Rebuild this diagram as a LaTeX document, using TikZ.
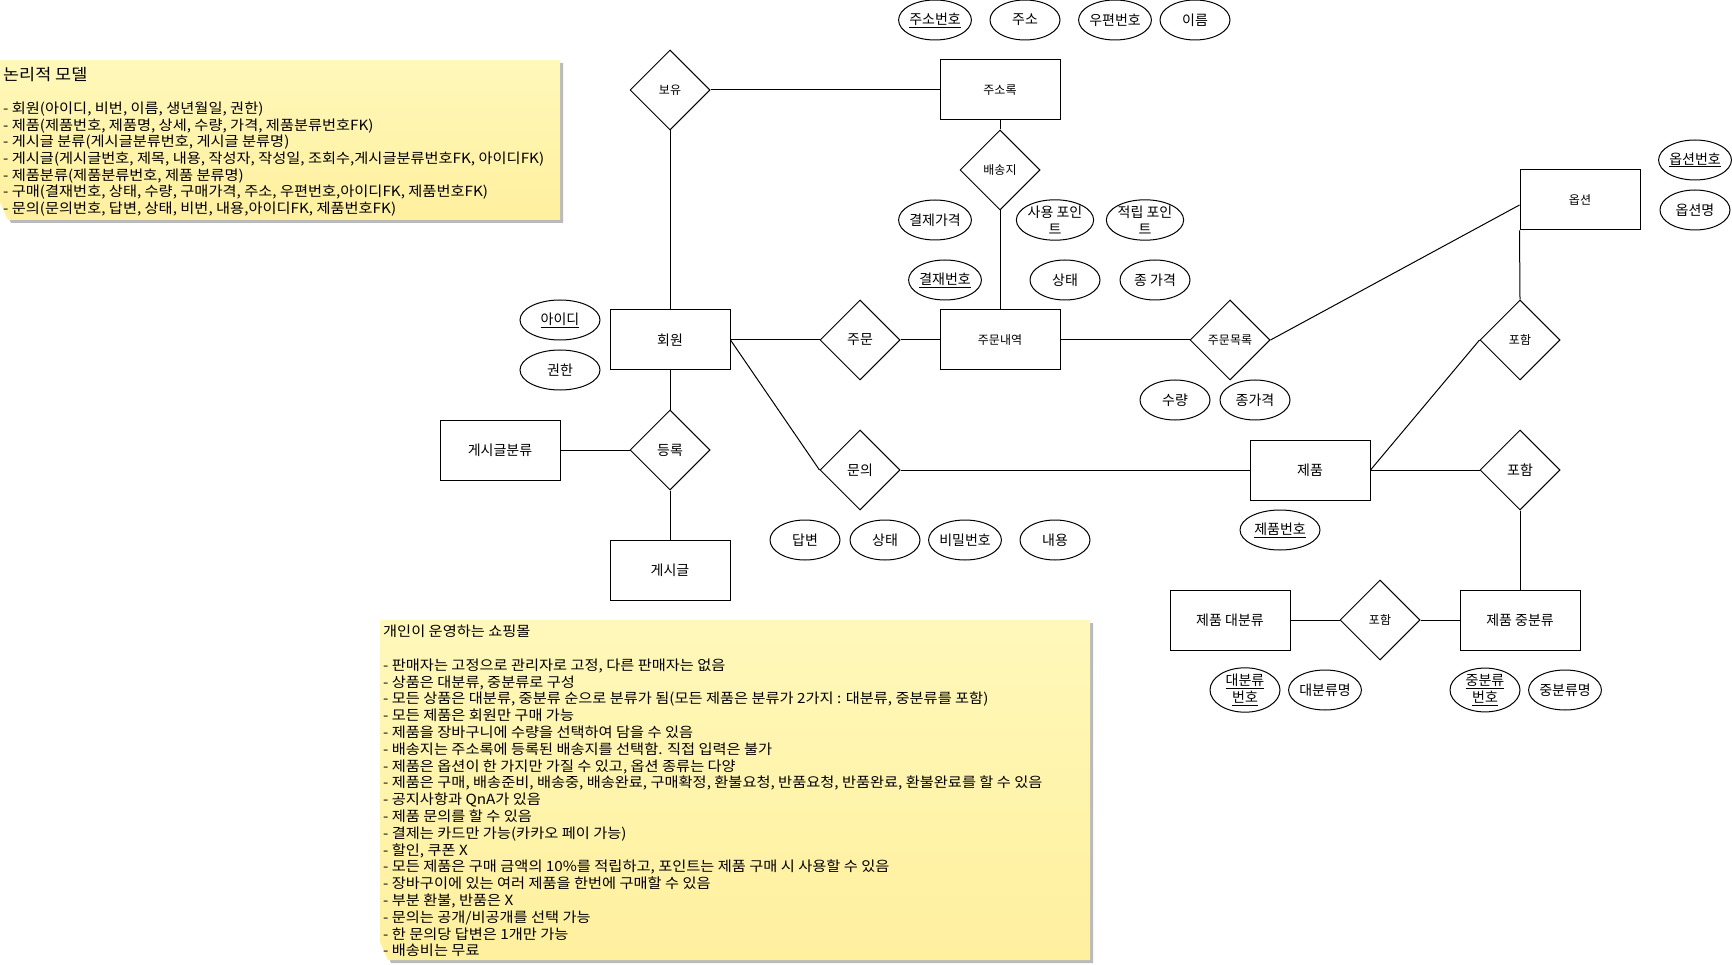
\documentclass[tikz,border=0pt]{standalone}
\usepackage{fontspec}
\setmainfont{Noto Sans CJK KR}
\newfontfamily\notefont[FakeStretch=1.09]{Noto Sans CJK KR}
\usetikzlibrary{shapes.geometric,shadows}
\definecolor{notetop}{HTML}{FFF8BA}
\definecolor{notebot}{HTML}{FFF09E}
\begin{document}
\begin{tikzpicture}[x=1pt,y=-1pt,
  every node/.style={inner sep=0pt,font=\fontsize{12}{14}\selectfont},
  entity/.style={draw,line width=1pt,rectangle,minimum width=120pt,minimum height=60pt},
  rel/.style={draw,line width=1pt,diamond,minimum width=80pt,minimum height=80pt,shape aspect=1},
  attr/.style={draw,line width=1pt,ellipse,minimum width=70pt,minimum height=40pt,align=center,font=\fontsize{14}{17}\selectfont},
  wide/.style={minimum width=80pt},
  large/.style={font=\fontsize{14}{17}\selectfont},
  link/.style={line width=1pt},
  note/.style={top color=notetop,bottom color=notebot,
    drop shadow={shadow xshift=3pt,shadow yshift=-3pt,fill=black!45,opacity=0.6}},
  notetext/.style={anchor=north west,align=left,font=\notefont\fontsize{14}{16.8}\selectfont}
]
\useasboundingbox (0,0) rectangle (1732,965);

% sticky notes, with the lower left corner folded away
\path[note] (0,60) -- (560,60) -- (560,220) -- (8,220) -- (0,202) -- cycle;
\node[anchor=north west,font=\notefont\fontsize{16}{19}\selectfont] (n1title) at (3,67) {논리적 모델};
\node[notetext,font=\notefont\fontsize{14}{16.6}\selectfont] (n1body) at (3,102) {%
- 회원(아이디, 비번, 이름, 생년월일, 권한)\\
- 제품(제품번호, 제품명, 상세, 수량, 가격, 제품분류번호FK)\\
- 게시글 분류(게시글분류번호, 게시글 분류명)\\
- 게시글(게시글번호, 제목, 내용, 작성자, 작성일, 조회수,게시글분류번호FK, 아이디FK)\\
- 제품분류(제품분류번호, 제품 분류명)\\
- 구매(결재번호, 상태, 수량, 구매가격, 주소, 우편번호,아이디FK, 제품번호FK)\\
- 문의(문의번호, 답변, 상태, 비번, 내용,아이디FK, 제품번호FK)};

\path[note] (380,620) -- (1090,620) -- (1090,960) -- (388,960) -- (380,942) -- cycle;
\node[notetext] (n2text) at (383,625) {%
개인이 운영하는 쇼핑몰\\[16.8pt]
- 판매자는 고정으로 관리자로 고정, 다른 판매자는 없음\\
- 상품은 대분류, 중분류로 구성\\
- 모든 상품은 대분류, 중분류 순으로 분류가 됨(모든 제품은 분류가 2가지 : 대분류, 중분류를 포함)\\
- 모든 제품은 회원만 구매 가능\\
- 제품을 장바구니에 수량을 선택하여 담을 수 있음\\
- 배송지는 주소록에 등록된 배송지를 선택함. 직접 입력은 불가\\
- 제품은 옵션이 한 가지만 가질 수 있고, 옵션 종류는 다양\\
- 제품은 구매, 배송준비, 배송중, 배송완료, 구매확정, 환불요청, 반품요청, 반품완료, 환불완료를 할 수 있음\\
- 공지사항과 QnA가 있음\\
- 제품 문의를 할 수 있음\\
- 결제는 카드만 가능(카카오 페이 가능)\\
- 할인, 쿠폰 X\\
- 모든 제품은 구매 금액의 10\%를 적립하고, 포인트는 제품 구매 시 사용할 수 있음\\
- 장바구이에 있는 여러 제품을 한번에 구매할 수 있음\\
- 부분 환불, 반품은 X\\
- 문의는 공개/비공개를 선택 가능\\
- 한 문의당 답변은 1개만 가능\\
- 배송비는 무료};

% entities
\node[entity] (addr) at (1000,90) {주소록};
\node[entity,large] (member) at (670,340) {회원};
\node[entity] (orderlist) at (1000,340) {주문내역};
\node[entity,large] (boardcat) at (500,450) {게시글분류};
\node[entity,large] (post) at (670,570) {게시글};
\node[entity,large] (product) at (1310,470) {제품};
\node[entity] (option) at (1580,200) {옵션};
\node[entity,large] (bigcat) at (1230,620) {제품 대분류};
\node[entity,large] (midcat) at (1520,620) {제품 중분류};

% relationships
\node[rel] (own) at (670,90) {보유};
\node[rel] (ship) at (1000,170) {배송지};
\node[rel,large] (order) at (860,340) {주문};
\node[rel] (orderitems) at (1230,340) {주문목록};
\node[rel,large] (inquiry) at (860,470) {문의};
\node[rel,large] (register) at (670,450) {등록};
\node[rel] (incopt) at (1520,340) {포함};
\node[rel,large] (incprod) at (1520,470) {포함};
\node[rel] (inccat) at (1380,620) {포함};

% attributes
\node[attr] (a1) at (935,20) {\underline{주소번호}};
\node[attr] (a2) at (1025,20) {주소};
\node[attr] (a3) at (1115,20) {우편번호};
\node[attr] (a4) at (1195,20) {이름};
\node[attr] (a5) at (935,220) {결제가격};
\node[attr] (a6) at (1055,220) {사용 포인\\트};
\node[attr] (a7) at (1145,220) {적립 포인\\트};
\node[attr] (a8) at (945,280) {\underline{결재번호}};
\node[attr] (a9) at (1065,280) {상태};
\node[attr] (a10) at (1155,280) {종 가격};
\node[attr] (a11) at (1175,400) {수량};
\node[attr] (a12) at (1255,400) {종가격};
\node[attr,wide] (a13) at (560,320) {\underline{아이디}};
\node[attr,wide] (a14) at (560,370) {권한};
\node[attr] (a15) at (805,540) {답변};
\node[attr] (a16) at (885,540) {상태};
\node[attr] (a17) at (965,540) {비밀번호};
\node[attr] (a18) at (1055,540) {내용};
\node[attr] (a19) at (1695,160) {\underline{옵션번호}};
\node[attr] (a20) at (1695,210) {옵션명};
\node[attr,wide] (a21) at (1280,530) {\underline{제품번호}};
\node[attr] (a22) at (1245,690) {\underline{대분류}\\\underline{번호}};
\node[attr] (a23) at (1325,690) {대분류명};
\node[attr] (a24) at (1485,690) {\underline{중분류}\\\underline{번호}};
\node[attr] (a25) at (1565,690) {중분류명};

% connectors
\draw[link] (own.east) -- (addr.west);
\draw[link] (own.south) -- (member.north);
\draw[link] (addr.south) -- (ship.north);
\draw[link] (ship.south) -- (orderlist.north);
\draw[link] (member.east) -- (order.west);
\draw[link] (order.east) -- (orderlist.west);
\draw[link] (orderlist.east) -- (orderitems.west);
\draw[link] (orderitems.east) -- ([yshift=-5pt]option.west);
\draw[link] (member.east) -- (inquiry.west);
\draw[link] (inquiry.east) -- (product.west);
\draw[link] (member.south) -- (register.north);
\draw[link] (boardcat.east) -- (register.west);
\draw[link] (register.south) -- (post.north);
\draw[link] (option.south west) -- (incopt.north);
\draw[link] (incopt.west) -- (product.east);
\draw[link] (product.east) -- (incprod.west);
\draw[link] (incprod.south) -- (midcat.north);
\draw[link] (bigcat.east) -- (inccat.west);
\draw[link] (inccat.east) -- (midcat.west);
\end{tikzpicture}
\end{document}
